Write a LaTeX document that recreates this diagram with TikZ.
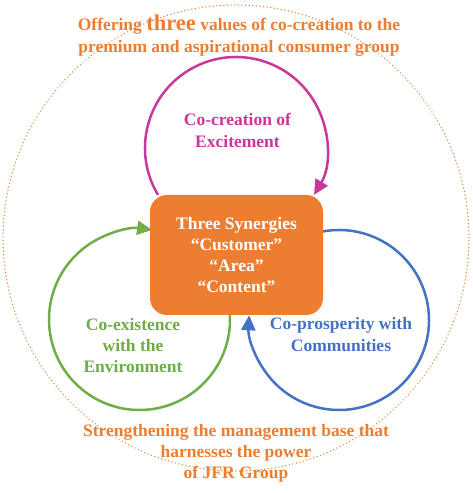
\documentclass[tikz,border=0pt]{standalone}
\usepackage{fontspec}
\setmainfont{Liberation Serif}
\usetikzlibrary{arrows.meta}
\definecolor{jfrorange}{RGB}{237,125,49}
\definecolor{jfrpink}{RGB}{201,55,155}
\definecolor{jfrgreen}{RGB}{112,173,71}
\definecolor{jfrblue}{RGB}{68,114,196}

\begin{document}
\begin{tikzpicture}[x=1pt,y=1pt,
  lbl/.style={align=center,inner sep=0pt,font=\bfseries\fontsize{17.5}{21.3}\selectfont},
  ring/.style={line width=2.5pt,-{Triangle[length=15pt,width=14pt]}}]
\useasboundingbox (0,0) rectangle (472,493);
\draw[jfrorange,line width=1.4pt,dash pattern=on 0.1pt off 3.5pt,line cap=round] (236,255) circle[radius=233];
\coordinate (excite) at (236,345);
\coordinate (environ) at (139.5,173.5);
\coordinate (commun) at (339,173);
\draw[ring,jfrpink] (excite) ++(211:91) arc[start angle=211,end angle=-31,radius=91];
\draw[ring,jfrgreen] (environ) ++(3:90.5) arc[start angle=3,end angle=-278,radius=90.5];
\draw[ring,jfrblue] (commun) ++(101:90) arc[start angle=101,end angle=-183,radius=90];
\node[lbl,fill=jfrorange,rounded corners=17pt,minimum width=173pt,minimum height=120pt,text=white] (synergy) at (236.5,238)
  {Three Synergies\\“Customer”\\“Area”\\“Content”};
\node[lbl,text=jfrorange] (offer) at (239,457.4)
  {Offering {\fontsize{22.5}{22.5}\selectfont three} values of co-creation to the\\[1pt]premium and aspirational consumer group};
\node[lbl,text=jfrpink] (excitetext) at (237.5,362.5) {Co-creation of\\Excitement};
\node[lbl,text=jfrgreen] (environtext) at (133,147.5) {Co-existence\\with the\\Environment};
\node[lbl,text=jfrblue] (communtext) at (341,158.4) {Co-prosperity with\\Communities};
\node[lbl,text=jfrorange] (base) at (236,39.6)
  {Strengthening the management base that\\harnesses the power\\of JFR Group};
\end{tikzpicture}
\end{document}
